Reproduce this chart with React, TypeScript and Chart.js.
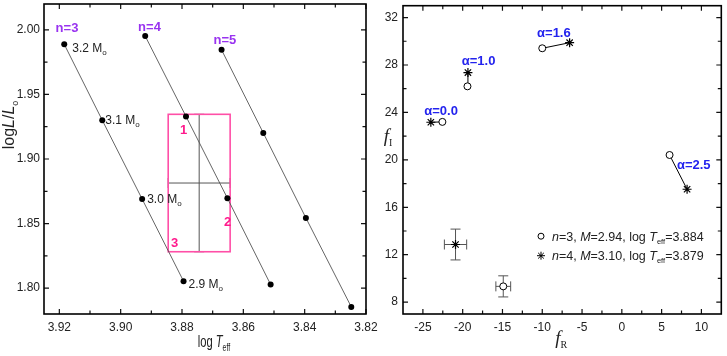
import React, { useEffect, useRef } from 'react';
import { Chart, registerables } from 'chart.js';
Chart.register(...registerables);

const FONT = "Arial, 'Liberation Sans', Helvetica, sans-serif";
const SERIF = "'Liberation Serif', 'Times New Roman', serif";

// ---------- Left panel data (HR diagram) ----------
const massLabels = ['3.2', '3.1', '3.0', '2.9'];
const n3LogT = [3.9184, 3.906, 3.893, 3.8795];
const n3LogL = [1.9888, 1.93, 1.869, 1.8054];
const n4LogT = [3.892, 3.8787, 3.8652, 3.8511];
const n4LogL = [1.9952, 1.933, 1.8697, 1.8028];
const n5LogT = [3.8671, 3.8535, 3.8396, 3.8248];
const n5LogL = [1.9845, 1.9202, 1.8544, 1.7855];
const seqLabels = ['n=3', 'n=4', 'n=5'];
const seqLabelT = [3.9175, 3.8906, 3.866];
const seqLabelL = [2.0008, 2.0021, 1.9916];
const obsLogT = 3.8744;
const obsLogTErr = 0.0101;
const obsLogL = 1.8814;
const obsLogLErr = 0.0532;
const boxLabels = ['1', '2', '3'];
const boxLabelT = [3.8795, 3.8651, 3.8824];
const boxLabelL = [1.9225, 1.8508, 1.8347];
const leftXTicks = [3.92, 3.9, 3.88, 3.86, 3.84, 3.82];
const leftYTicks = [1.8, 1.85, 1.9, 1.95, 2.0];

// ---------- Right panel data (frequency plane) ----------
const alphaLabels = ['α=0.0', 'α=1.0', 'α=1.6', 'α=2.5'];
const alphaLabelFR = [-22.71, -18.0, -8.54, 9.04];
const alphaLabelFI = [24.06, 28.27, 30.7, 19.53];
const n3FR = [-22.55, -19.4, -10.0, 6.0];
const n3FI = [23.2, 26.2, 29.41, 20.41];
const n4FR = [-24.0, -19.34, -6.56, 8.2];
const n4FI = [23.17, 27.36, 29.88, 17.52];
const obsCircFR = -14.9, obsCircFRErr = 0.93, obsCircFI = 9.33, obsCircFIErr = 0.89;
const obsStarFR = -20.9, obsStarFRErr = 1.4, obsStarFI = 12.86, obsStarFIErr = 1.3;
const legendN = ['3', '4'];
const legendM = ['2.94', '3.10'];
const legendT = ['3.884', '3.879'];
const rightXTicks = [-25, -20, -15, -10, -5, 0, 5, 10];
const rightYTicks = [8, 12, 16, 20, 24, 28, 32];

type Part = { t: string; size: number; style?: string; family?: string; dy?: number; color?: string };

function drawRich(ctx: CanvasRenderingContext2D, x: number, y: number, parts: Part[], align: 'left' | 'center' = 'left', sx = 1) {
  let w = 0;
  const widths: number[] = [];
  for (const p of parts) {
    ctx.font = `${p.style || ''} ${p.size}px ${p.family || FONT}`;
    const mw = ctx.measureText(p.t).width;
    widths.push(mw);
    w += mw;
  }
  ctx.save();
  ctx.translate(x, y);
  ctx.scale(sx, 1);
  ctx.textBaseline = 'alphabetic';
  ctx.textAlign = 'left';
  let cx = align === 'center' ? -w / 2 : 0;
  parts.forEach((p, i) => {
    ctx.font = `${p.style || ''} ${p.size}px ${p.family || FONT}`;
    ctx.fillStyle = p.color || '#222';
    ctx.fillText(p.t, cx, p.dy || 0);
    cx += widths[i];
  });
  ctx.restore();
}

function minorsOf(majors: number[]) {
  const s = [...majors].sort((a, b) => a - b);
  const out: number[] = [];
  for (let i = 0; i < s.length - 1; i++) out.push((s[i] + s[i + 1]) / 2);
  return out;
}

function drawFrame(chart: any, xMaj: number[], yMaj: number[]) {
  const { ctx, chartArea: a, scales } = chart;
  const x = scales.x, y = scales.y;
  ctx.save();
  ctx.strokeStyle = '#111';
  ctx.lineWidth = 1.2;
  ctx.beginPath();
  const xt = (vals: number[], len: number) => {
    for (const v of vals) {
      const px = x.getPixelForValue(v);
      ctx.moveTo(px, a.bottom); ctx.lineTo(px, a.bottom - len);
      ctx.moveTo(px, a.top); ctx.lineTo(px, a.top + len);
    }
  };
  const yt = (vals: number[], len: number) => {
    for (const v of vals) {
      const py = y.getPixelForValue(v);
      ctx.moveTo(a.left, py); ctx.lineTo(a.left + len, py);
      ctx.moveTo(a.right, py); ctx.lineTo(a.right - len, py);
    }
  };
  xt(xMaj, 5); xt(minorsOf(xMaj), 3.5);
  yt(yMaj, 5); yt(minorsOf(yMaj), 3.5);
  ctx.stroke();
  ctx.lineWidth = 1.6;
  ctx.strokeStyle = '#000';
  ctx.strokeRect(a.left, a.top, a.right - a.left, a.bottom - a.top);
  ctx.restore();
}

function errorBar(ctx: CanvasRenderingContext2D, x: any, y: any, cxv: number, xe: number, cyv: number, ye: number, cap: number) {
  const cx = x.getPixelForValue(cxv), cy = y.getPixelForValue(cyv);
  const x1 = x.getPixelForValue(cxv - xe), x2 = x.getPixelForValue(cxv + xe);
  const y1 = y.getPixelForValue(cyv - ye), y2 = y.getPixelForValue(cyv + ye);
  ctx.beginPath();
  ctx.moveTo(x1, cy); ctx.lineTo(x2, cy);
  ctx.moveTo(cx, y1); ctx.lineTo(cx, y2);
  ctx.moveTo(x1, cy - cap / 2); ctx.lineTo(x1, cy + cap / 2);
  ctx.moveTo(x2, cy - cap / 2); ctx.lineTo(x2, cy + cap / 2);
  ctx.moveTo(cx - cap / 2, y1); ctx.lineTo(cx + cap / 2, y1);
  ctx.moveTo(cx - cap / 2, y2); ctx.lineTo(cx + cap / 2, y2);
  ctx.stroke();
}

const tickFont = { family: FONT, size: 12 };

function axisX(min: number, max: number, ticks: number[], fmt: (v: number) => string, reverse: boolean) {
  return {
    type: 'linear', min, max, reverse,
    grid: { display: false, drawTicks: false }, border: { display: false },
    ticks: { font: tickFont, color: '#222', padding: 6, autoSkip: false, maxRotation: 0, callback: (v: any) => fmt(Number(v)) },
    afterBuildTicks: (s: any) => { s.ticks = ticks.map((v) => ({ value: v })); },
    afterFit: (s: any) => { s.height = 42; s.paddingLeft = 0; s.paddingRight = 0; },
  };
}
function axisY(min: number, max: number, ticks: number[], fmt: (v: number) => string, width: number, pad: number) {
  return {
    type: 'linear', min, max,
    grid: { display: false, drawTicks: false }, border: { display: false },
    ticks: { font: tickFont, color: '#222', padding: pad, autoSkip: false, callback: (v: any) => fmt(Number(v)) },
    afterBuildTicks: (s: any) => { s.ticks = ticks.map((v) => ({ value: v })); },
    afterFit: (s: any) => { s.width = width; s.paddingTop = 0; s.paddingBottom = 0; },
  };
}

const leftPlugin = {
  id: 'leftDeco',
  beforeDatasetsDraw(chart: any) {
    const { ctx, scales: { x, y } } = chart;
    ctx.save();
    ctx.strokeStyle = '#555';
    ctx.lineWidth = 1;
    errorBar(ctx, x, y, obsLogT, obsLogTErr, obsLogL, obsLogLErr, 10);
    const l = x.getPixelForValue(obsLogT + obsLogTErr), r = x.getPixelForValue(obsLogT - obsLogTErr);
    const t = y.getPixelForValue(obsLogL + obsLogLErr), b = y.getPixelForValue(obsLogL - obsLogLErr);
    ctx.strokeStyle = '#ff4fa7';
    ctx.lineWidth = 1.6;
    ctx.strokeRect(l, t, r - l, b - t);
    ctx.restore();
  },
  afterDraw(chart: any) {
    const { ctx, chartArea: a, scales: { x, y } } = chart;
    drawFrame(chart, leftXTicks, leftYTicks);
    ctx.save();
    ctx.textAlign = 'center';
    ctx.textBaseline = 'middle';
    ctx.font = `bold 13px ${FONT}`;
    ctx.fillStyle = '#9933f0';
    seqLabels.forEach((s, i) => ctx.fillText(s, x.getPixelForValue(seqLabelT[i]), y.getPixelForValue(seqLabelL[i])));
    ctx.fillStyle = '#ff1a8c';
    boxLabels.forEach((s, i) => ctx.fillText(s, x.getPixelForValue(boxLabelT[i]), y.getPixelForValue(boxLabelL[i])));
    ctx.restore();
    const dxs = [8, 3, 5, 5];
    const dys = [8, 4, 3.5, 7];
    massLabels.forEach((m, i) => {
      const px = x.getPixelForValue(n3LogT[i]) + dxs[i];
      const py = y.getPixelForValue(n3LogL[i]) + dys[i];
      drawRich(ctx, px, py, [
        { t: m + ' M', size: 12 },
        { t: 'o', size: 8, dy: 3 },
      ]);
    });
    // x title
    drawRich(ctx, (a.left + a.right) / 2 + 9, 347, [
      { t: 'log ', size: 16 },
      { t: 'T', size: 16, style: 'italic' },
      { t: 'eff', size: 10, dy: 4 },
    ], 'center', 0.7);
    // y title
    ctx.save();
    ctx.translate(14, 125);
    ctx.rotate(-Math.PI / 2);
    drawRich(ctx, 0, 0, [
      { t: 'log', size: 16 },
      { t: 'L', size: 16, style: 'italic' },
      { t: '/', size: 16 },
      { t: 'L', size: 16, style: 'italic' },
      { t: 'o', size: 9, dy: 4 },
    ], 'center');
    ctx.restore();
  },
};

const rightPlugin = {
  id: 'rightDeco',
  beforeDatasetsDraw(chart: any) {
    const { ctx, scales: { x, y } } = chart;
    ctx.save();
    ctx.strokeStyle = '#555';
    ctx.lineWidth = 1;
    errorBar(ctx, x, y, obsStarFR, obsStarFRErr, obsStarFI, obsStarFIErr, 10);
    errorBar(ctx, x, y, obsCircFR, obsCircFRErr, obsCircFI, obsCircFIErr, 10);
    ctx.restore();
  },
  afterDraw(chart: any) {
    const { ctx, chartArea: a, scales: { x, y } } = chart;
    drawFrame(chart, rightXTicks, rightYTicks);
    ctx.save();
    ctx.textAlign = 'center';
    ctx.textBaseline = 'middle';
    ctx.font = `bold 13px ${FONT}`;
    ctx.fillStyle = '#2323ee';
    alphaLabels.forEach((s, i) => ctx.fillText(s, x.getPixelForValue(alphaLabelFR[i]), y.getPixelForValue(alphaLabelFI[i])));
    ctx.restore();
    // legend
    const lx = a.left + 138;
    const rows = [a.top + 230.5, a.top + 250];
    ctx.save();
    ctx.strokeStyle = '#000';
    ctx.lineWidth = 1;
    ctx.fillStyle = '#fff';
    ctx.beginPath();
    ctx.arc(lx, rows[0], 3, 0, Math.PI * 2);
    ctx.fill();
    ctx.stroke();
    ctx.beginPath();
    const r = 4;
    for (let k = 0; k < 4; k++) {
      const ang = (k * Math.PI) / 4;
      ctx.moveTo(lx - r * Math.cos(ang), rows[1] - r * Math.sin(ang));
      ctx.lineTo(lx + r * Math.cos(ang), rows[1] + r * Math.sin(ang));
    }
    ctx.stroke();
    ctx.restore();
    legendN.forEach((n, i) => {
      drawRich(ctx, lx + 11, rows[i] + 4.5, [
        { t: 'n', size: 12.5, style: 'italic' },
        { t: '=' + n + ', ', size: 12.5 },
        { t: 'M', size: 12.5, style: 'italic' },
        { t: '=' + legendM[i] + ', log ', size: 12.5 },
        { t: 'T', size: 12.5, style: 'italic' },
        { t: 'eff', size: 7.5, dy: 3 },
        { t: '=' + legendT[i], size: 12.5 },
      ]);
    });
    // titles
    drawRich(ctx, (a.left + a.right) / 2 - 1, 344, [
      { t: 'f', size: 19, style: 'italic', family: SERIF },
      { t: 'R', size: 10, family: SERIF, dy: 4 },
    ], 'center');
    drawRich(ctx, 18, 142, [
      { t: 'f', size: 19, style: 'italic', family: SERIF },
      { t: 'I', size: 10, family: SERIF, dy: 4 },
    ], 'center');
  },
};

function leftConfig(): any {
  const seqs = [[n3LogT, n3LogL], [n4LogT, n4LogL], [n5LogT, n5LogL]];
  return {
    type: 'scatter',
    data: {
      datasets: seqs.map(([T, L]) => ({
        data: T.map((t, i) => ({ x: t, y: L[i] })),
        showLine: true,
        borderColor: '#555',
        borderWidth: 0.9,
        pointRadius: 3,
        pointBackgroundColor: '#000',
        pointBorderColor: '#000',
        pointBorderWidth: 0,
      })),
    },
    options: {
      responsive: false,
      animation: false,
      devicePixelRatio: 1,
      events: [],
      layout: { padding: { left: 0, right: 34, top: 1, bottom: 0 } },
      plugins: { legend: { display: false }, tooltip: { enabled: false } },
      scales: {
        x: axisX(3.82, 3.925, leftXTicks, (v) => v.toFixed(2), true),
        y: axisY(1.78, 2.02, leftYTicks, (v) => v.toFixed(2), 44, 4),
      },
    },
    plugins: [leftPlugin],
  };
}

function rightConfig(): any {
  const segs = alphaLabels.map((_, i) => ({
    data: [{ x: n3FR[i], y: n3FI[i] }, { x: n4FR[i], y: n4FI[i] }],
    showLine: true,
    borderColor: '#000',
    borderWidth: 1,
    pointRadius: 0,
    order: 3,
  }));
  const circle = {
    pointStyle: 'circle', pointRadius: 3.5, pointBackgroundColor: '#fff', pointBorderColor: '#000', pointBorderWidth: 1, order: 1,
  };
  const star = {
    pointStyle: 'star', pointRadius: 4.5, pointBackgroundColor: '#000', pointBorderColor: '#000', pointBorderWidth: 1.2, order: 1,
  };
  return {
    type: 'scatter',
    data: {
      datasets: [
        ...segs,
        { ...circle, data: n3FR.map((v, i) => ({ x: v, y: n3FI[i] })) },
        { ...star, data: n4FR.map((v, i) => ({ x: v, y: n4FI[i] })) },
        { ...circle, data: [{ x: obsCircFR, y: obsCircFI }] },
        { ...star, data: [{ x: obsStarFR, y: obsStarFI }] },
      ],
    },
    options: {
      responsive: false,
      animation: false,
      devicePixelRatio: 1,
      events: [],
      layout: { padding: { left: 0, right: 3, top: 1, bottom: 0 } },
      plugins: { legend: { display: false }, tooltip: { enabled: false } },
      scales: {
        x: axisX(-27.5, 12.5, rightXTicks, (v) => String(v), false),
        y: axisY(7, 33, rightYTicks, (v) => String(v), 33, 5),
      },
    },
    plugins: [rightPlugin],
  };
}

export default function App() {
  const leftRef = useRef<HTMLCanvasElement>(null);
  const rightRef = useRef<HTMLCanvasElement>(null);
  useEffect(() => {
    const c1 = new Chart(leftRef.current as HTMLCanvasElement, leftConfig());
    const c2 = new Chart(rightRef.current as HTMLCanvasElement, rightConfig());
    return () => {
      c1.destroy();
      c2.destroy();
    };
  }, []);
  return (
    <div style={{ position: 'fixed', left: 0, top: 0, width: 727, height: 356, background: '#fff' }}>
      <canvas ref={leftRef} width={400} height={356} style={{ position: 'absolute', left: 0, top: 0, width: 400, height: 356 }} />
      <canvas ref={rightRef} width={357} height={356} style={{ position: 'absolute', left: 370, top: 0, width: 357, height: 356 }} />
    </div>
  );
}
